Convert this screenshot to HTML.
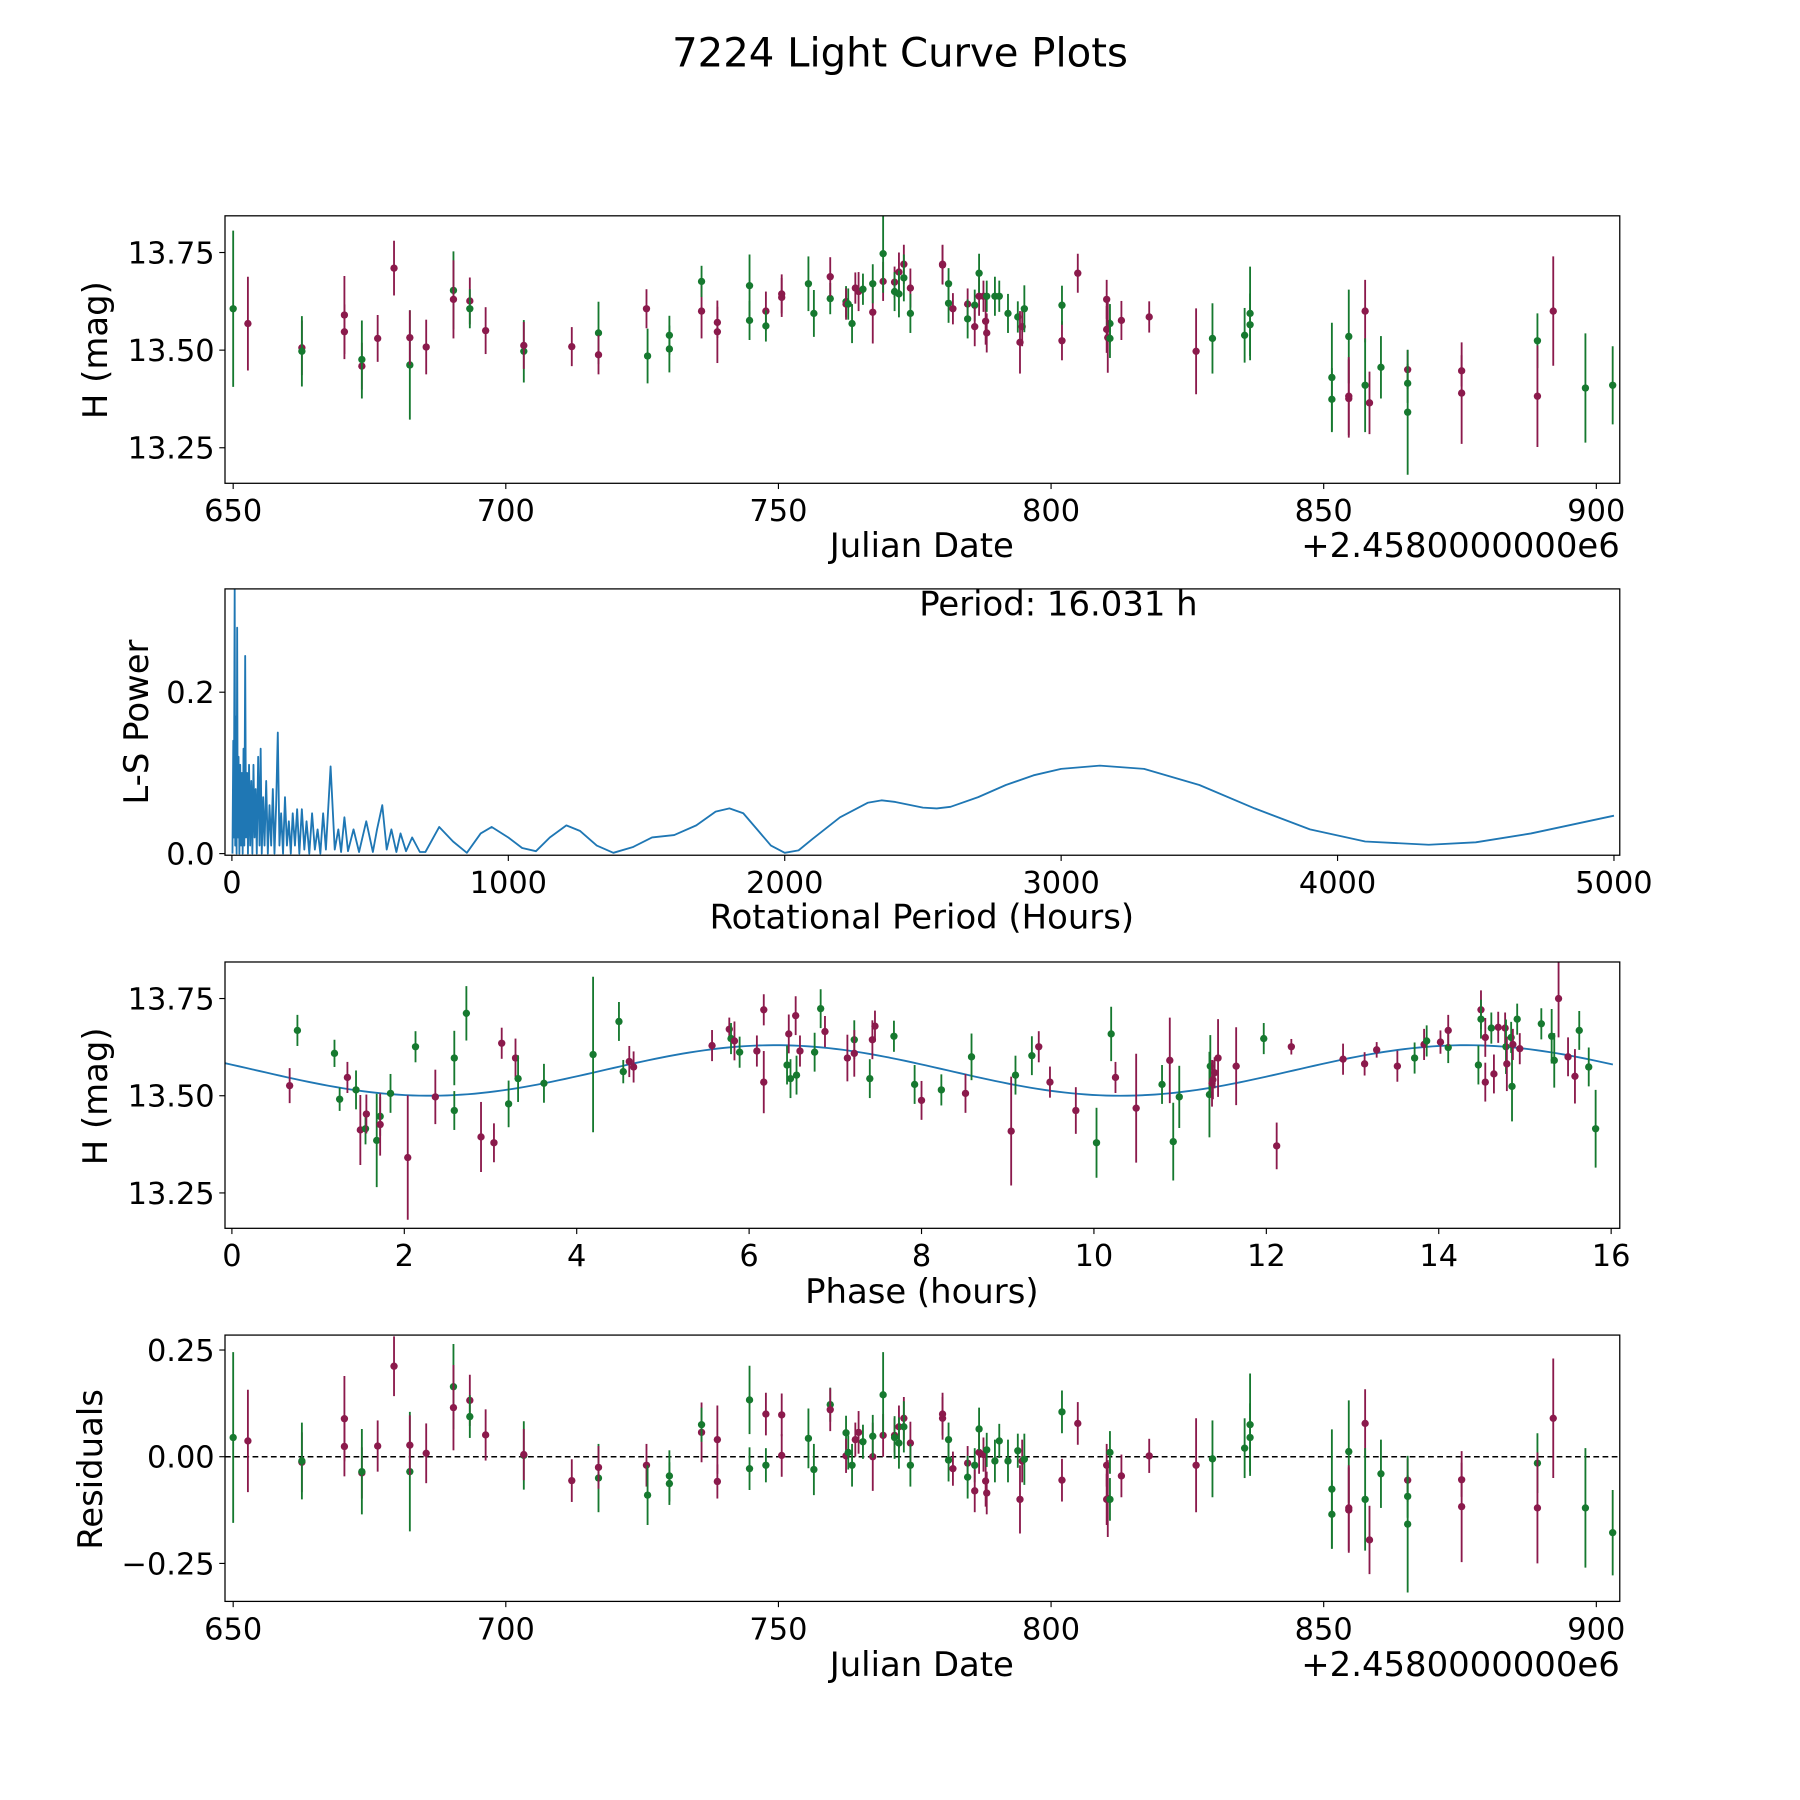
<!DOCTYPE html>
<html><head><meta charset="utf-8"><title>7224 Light Curve Plots</title>
<style>html,body{margin:0;padding:0;background:#fff}svg{display:block;font-family:"DejaVu Sans","Liberation Sans",sans-serif}</style>
</head><body>
<svg id="fig" width="1800" height="1800" viewBox="0 0 1568 1568" xmlns="http://www.w3.org/2000/svg">
<rect width="1568" height="1568" fill="#fff"/>
<text x="784" y="58" font-size="35" text-anchor="middle">7224 Light Curve Plots</text>
</svg>
<script>
// ---- Data: light curve [julian date offset, H mag, error, filter] ----
const lcJD = [650,652.7,662.6,662.6,670.4,670.4,673.6,673.6,676.5,679.5,682.4,682.4,685.4,690.4,690.4,693.4,693.4,696.3,703.3,703.3,712.1,717,717,725.8,726,730,730,735.9,735.9,738.8,738.8,744.7,744.7,747.7,747.7,750.6,750.6,755.5,756.5,759.5,759.5,762.4,762.4,762.8,763.5,764.1,764.7,765.5,767.3,767.3,769.2,769.2,771.3,771.3,772.1,772.1,773,773,774.2,774.2,780.1,780.1,781.2,781.2,782,784.7,784.7,786,786,786.8,786.8,787.6,788,788.2,788.2,789.7,790.5,792.1,793.9,794.3,794.7,795.1,802,802,804.9,810.2,810.2,810.8,810.4,810.8,812.9,818,826.6,829.6,835.5,836.5,836.5,851.5,851.5,854.6,854.6,854.6,857.6,857.6,858.4,860.5,865.4,865.4,865.4,875.3,875.3,889.2,889.2,892.1,898,903];
const lcH = [13.606,13.568,13.506,13.497,13.59,13.547,13.459,13.476,13.53,13.71,13.462,13.532,13.508,13.653,13.63,13.626,13.606,13.55,13.497,13.512,13.509,13.544,13.488,13.606,13.485,13.503,13.538,13.6,13.676,13.571,13.547,13.665,13.576,13.6,13.562,13.644,13.635,13.67,13.594,13.632,13.688,13.624,13.618,13.618,13.568,13.659,13.65,13.656,13.597,13.67,13.676,13.747,13.674,13.65,13.7,13.644,13.72,13.685,13.659,13.594,13.72,13.718,13.67,13.62,13.606,13.618,13.58,13.615,13.56,13.638,13.697,13.638,13.574,13.638,13.544,13.638,13.638,13.594,13.585,13.52,13.56,13.606,13.524,13.615,13.697,13.553,13.63,13.568,13.532,13.53,13.576,13.585,13.497,13.53,13.538,13.594,13.565,13.43,13.374,13.535,13.376,13.382,13.6,13.41,13.365,13.456,13.45,13.415,13.341,13.447,13.39,13.524,13.382,13.6,13.403,13.41];
const lcErr = [0.2,0.12,0.07,0.09,0.1,0.07,0.06,0.1,0.06,0.07,0.14,0.07,0.07,0.1,0.1,0.06,0.05,0.06,0.08,0.06,0.05,0.08,0.05,0.05,0.07,0.06,0.05,0.07,0.04,0.04,0.08,0.08,0.05,0.05,0.04,0.05,0.05,0.07,0.06,0.04,0.05,0.04,0.04,0.04,0.05,0.04,0.05,0.04,0.08,0.05,0.05,0.1,0.04,0.05,0.05,0.06,0.05,0.06,0.05,0.05,0.05,0.05,0.04,0.05,0.04,0.04,0.05,0.04,0.05,0.05,0.05,0.04,0.06,0.04,0.05,0.05,0.04,0.05,0.04,0.08,0.05,0.06,0.05,0.05,0.05,0.06,0.05,0.05,0.09,0.05,0.05,0.04,0.11,0.09,0.07,0.12,0.08,0.14,0.08,0.12,0.1,0.1,0.08,0.12,0.08,0.08,0.05,0.05,0.16,0.04,0.13,0.07,0.13,0.14,0.14,0.1];
const lcFilt = "gmmgmmmgmmgmmgmmgmgmmgmmgggmgmmggmgmmgggmgmggmmgmgmgmgmgmgmgmmggmmggmmgmmgmggggmmgmgmmmgmgmmmgggggggmmmgmgmggmmgmmggmmmm".split("");
const lcResid = [0.045,0.037,-0.013,-0.01,0.089,0.024,-0.038,-0.035,0.025,0.212,-0.035,0.027,0.008,0.164,0.115,0.132,0.094,0.051,0.003,0.005,-0.056,-0.05,-0.025,-0.02,-0.09,-0.045,-0.063,0.057,0.075,-0.058,0.04,0.133,-0.028,0.1,-0.02,0.098,0.003,0.043,-0.03,0.122,0.11,0.056,0.002,0.01,-0.02,0.04,0.057,0.035,0,0.048,0.05,0.145,0.05,0.045,0.07,0.032,0.09,0.07,0.032,-0.02,0.09,0.1,0.04,-0.008,-0.028,-0.015,-0.048,-0.02,-0.08,0.01,0.065,0.005,-0.057,0.016,-0.085,-0.01,0.037,-0.01,0.014,-0.1,-0.01,-0.006,-0.055,0.105,0.078,-0.1,-0.02,0.01,-0.098,-0.1,-0.045,0.002,-0.02,-0.005,0.02,0.075,0.045,-0.076,-0.135,0.012,-0.125,-0.12,0.078,-0.1,-0.195,-0.04,-0.055,-0.093,-0.158,-0.054,-0.117,-0.015,-0.12,0.09,-0.12,-0.178];

// ---- Periodogram ----
const lsPeriod = [2,5,7,10,12,15,17,19,21,24,27,30,33,36,39,42,45,48,51,55,58,62,66,70,74,78,82,86,90,95,100,104,108,113,118,124,130,136,142,148,154,160,166,172,178,185,192,199,206,213,220,228,236,244,253,262,270,280,290,300,310,320,330,340,357,372,385,395,407,420,440,460,486,510,525,544,560,577,595,610,630,652,680,700,750,800,850,900,940,1000,1050,1100,1150,1210,1260,1320,1380,1450,1520,1600,1680,1750,1800,1850,1900,1950,2000,2050,2100,2200,2300,2350,2400,2500,2550,2600,2700,2800,2900,3000,3140,3300,3500,3700,3900,4100,4330,4500,4700,4850,5000];
const lsPower = [0,0.14,0.02,0.33,0.01,0.17,0,0.28,0.02,0.12,0,0.11,0.01,0.1,0,0.13,0.01,0.245,0.02,0.1,0,0.11,0.01,0.09,0,0.11,0.02,0.08,0,0.12,0.01,0.13,0,0.07,0.01,0.09,0,0.06,0.01,0.08,0,0.06,0.15,0.01,0.05,0,0.07,0.01,0.04,0,0.05,0.01,0.055,0,0.055,0.005,0.04,0,0.05,0.005,0.03,0,0.05,0.005,0.108,0.005,0.03,0.002,0.045,0.003,0.03,0.002,0.04,0.002,0.03,0.06,0.005,0.03,0.002,0.025,0.003,0.02,0.002,0.002,0.033,0.015,0.001,0.025,0.033,0.02,0.007,0.003,0.02,0.035,0.028,0.01,0.001,0.008,0.02,0.023,0.035,0.052,0.056,0.05,0.03,0.01,0.001,0.004,0.018,0.045,0.063,0.066,0.064,0.057,0.056,0.058,0.07,0.085,0.097,0.105,0.109,0.105,0.085,0.056,0.03,0.015,0.011,0.014,0.025,0.036,0.047];

// ---- Phased light curve ----
const phHours = [0.67,0.76,1.19,1.25,1.34,1.44,1.49,1.55,1.56,1.68,1.72,1.72,1.84,2.04,2.13,2.36,2.58,2.58,2.72,2.89,3.04,3.13,3.21,3.29,3.32,3.62,4.19,4.49,4.54,4.61,4.66,5.57,5.77,5.79,5.83,5.89,6.17,6.17,6.09,6.44,6.46,6.48,6.54,6.55,6.59,6.76,6.83,6.88,7.14,7.22,7.22,7.4,7.43,7.46,7.68,7.92,8.0,8.23,8.51,8.58,9.04,9.09,9.28,9.36,9.49,9.79,10.03,10.2,10.25,10.49,10.79,10.88,10.92,10.99,11.34,11.35,11.37,11.38,11.4,11.44,11.65,11.97,12.12,12.29,12.89,13.14,13.28,13.52,13.72,13.83,13.86,14.02,14.11,14.11,14.46,14.49,14.49,14.54,14.54,14.61,14.64,14.69,14.77,14.78,14.79,14.84,14.85,14.86,14.91,14.94,15.19,15.31,15.34,15.39,15.5,15.58,15.63,15.74,15.82];
const phH = [13.526,13.668,13.609,13.491,13.547,13.515,13.412,13.415,13.453,13.385,13.447,13.426,13.506,13.341,13.626,13.497,13.597,13.462,13.712,13.394,13.379,13.635,13.479,13.597,13.544,13.532,13.606,13.691,13.562,13.588,13.574,13.629,13.671,13.647,13.641,13.612,13.721,13.535,13.615,13.579,13.659,13.544,13.706,13.553,13.615,13.612,13.724,13.665,13.597,13.644,13.609,13.544,13.644,13.679,13.653,13.529,13.488,13.515,13.506,13.6,13.409,13.553,13.603,13.626,13.535,13.462,13.379,13.659,13.547,13.468,13.529,13.591,13.382,13.497,13.503,13.576,13.532,13.541,13.559,13.597,13.576,13.647,13.371,13.626,13.594,13.582,13.618,13.576,13.597,13.632,13.641,13.638,13.624,13.668,13.579,13.721,13.697,13.535,13.65,13.674,13.556,13.676,13.674,13.626,13.582,13.65,13.524,13.632,13.697,13.621,13.685,13.653,13.591,13.75,13.6,13.55,13.668,13.574,13.415];
const phFilt = "mgggmgmgmggmgmgmgggmmmgmgggggmmmmgmgmmmgmgmgmggmmgmgmmggmgmgmggmmmggmmgmggggmmmmmgmmmmmmgmgmgmgmgmmgmmmgmggmgmgggmmmggggggm".split("");
const phErr = [0.045,0.04,0.035,0.03,0.04,0.05,0.09,0.04,0.05,0.12,0.05,0.08,0.05,0.16,0.04,0.07,0.07,0.05,0.07,0.09,0.05,0.04,0.06,0.05,0.06,0.05,0.2,0.05,0.03,0.04,0.04,0.04,0.03,0.04,0.05,0.04,0.04,0.08,0.04,0.05,0.05,0.05,0.05,0.05,0.04,0.05,0.05,0.04,0.06,0.05,0.06,0.05,0.05,0.04,0.04,0.05,0.05,0.04,0.05,0.06,0.14,0.05,0.05,0.04,0.04,0.06,0.09,0.07,0.04,0.14,0.05,0.11,0.1,0.08,0.11,0.08,0.06,0.05,0.04,0.1,0.1,0.04,0.06,0.02,0.04,0.03,0.02,0.04,0.04,0.04,0.04,0.03,0.04,0.04,0.05,0.05,0.05,0.05,0.05,0.04,0.05,0.04,0.04,0.07,0.07,0.04,0.09,0.04,0.04,0.04,0.04,0.07,0.07,0.1,0.05,0.07,0.05,0.05,0.1];

const modelMean = 13.565, modelAmp = 0.065, modelZero = 4.3, modelHalfPeriod = 8.0155;
const colG = "#16792f", colM = "#8b1a4c", colB = "#1f77b4";
const NS = "http://www.w3.org/2000/svg";
const svg = document.getElementById('fig');
function mk(tag, attrs, parent){const e=document.createElementNS(NS,tag);for(const k in attrs)e.setAttribute(k,attrs[k]);(parent||svg).appendChild(e);return e;}

function panel(id, top, bottom, xmin, xmax, ymin, ymax){
  const L=196,R=1411;
  const g = mk('g',{});
  
  
  const cp = mk('clipPath',{id:'clip-'+id},g);
  mk('rect',{x:L,y:top,width:R-L,height:bottom-top},cp);
  const plot = mk('g',{'clip-path':'url(#clip-'+id+')'},g);
  
  
  return {g, plot, L, R, top, bottom,
    x:v=>L+(v-xmin)/(xmax-xmin)*(R-L),
    y:v=>bottom-(v-ymin)/(ymax-ymin)*(bottom-top)};
}
function frame(p){
  const r = mk('rect',{x:p.L,y:p.top,width:p.R-p.L,height:p.bottom-p.top,fill:'none',stroke:'#000','stroke-width':1.1},p.g);
  
  
}
function xticks(p, vals, labels, name){
  vals.forEach((v,i)=>{const X=p.x(v);
    mk('line',{x1:X,x2:X,y1:p.bottom,y2:p.bottom+5,stroke:'#000','stroke-width':1},p.g);
    const t=mk('text',{x:X,y:p.bottom+33,'font-size':26.5,'text-anchor':'middle'},p.g);
    t.textContent=labels[i];
    
    
  });
}
function yticks(p, vals, labels, name){
  vals.forEach((v,i)=>{const Y=p.y(v);
    mk('line',{x1:p.L-5,x2:p.L,y1:Y,y2:Y,stroke:'#000','stroke-width':1},p.g);
    const t=mk('text',{x:p.L-9,y:Y+9.5,'font-size':26.5,'text-anchor':'end'},p.g);
    t.textContent=labels[i];
    
    
  });
}
function label(p, txt, x, y, rot, name, anchor){
  const t=mk('text',{x:x,y:y,'font-size':29.5,'text-anchor':anchor||'middle'},p.g);
  if(rot) t.setAttribute('transform','rotate(-90 '+x+' '+y+')');
  t.textContent=txt;
  
  
}
function point(p, xv, yv, ev, c){
  const col = c==='g'?colG:colM;
  const X=p.x(xv);
  const l=mk('line',{x1:X,x2:X,y1:p.y(yv-ev),y2:p.y(yv+ev),stroke:col,'stroke-width':1.6},p.plot);
  
  
  const d=mk('circle',{cx:X,cy:p.y(yv),r:3.2,fill:col},p.plot);
  
  
}

// Panel 1: light curve
const p1 = panel('light-curve',188,421,648.5,904.3,13.159,13.844);
lcJD.forEach((d,i)=>point(p1,d,lcH[i],lcErr[i],lcFilt[i]));
frame(p1);
xticks(p1,[650,700,750,800,850,900],['650','700','750','800','850','900'],'x1');
yticks(p1,[13.25,13.5,13.75],['13.25','13.50','13.75'],'y1');
label(p1,'Julian Date',803,485,false,'x-axis-title-1');
label(p1,'+2.4580000000e6',1411,485,false,'x-offset-text-1','end');
label(p1,'H (mag)',93,305,true,'y-axis-title-1');

// Panel 2: periodogram
const p2 = panel('periodogram',513,745,-25,5021,-0.002,0.328);
const pts = lsPeriod.map((v,i)=>p2.x(v).toFixed(2)+','+p2.y(lsPower[i]).toFixed(2)).join(' ');
const pl = mk('polyline',{points:pts,fill:'none',stroke:colB,'stroke-width':1.6,'stroke-linejoin':'round'},p2.plot);


frame(p2);
xticks(p2,[0,1000,2000,3000,4000,5000],['0','1000','2000','3000','4000','5000'],'x2');
yticks(p2,[0,0.2],['0.0','0.2'],'y2');
label(p2,'Rotational Period (Hours)',803,809,false,'x-axis-title-2');
label(p2,'L-S Power',129,629,true,'y-axis-title-2');
label(p2,'Period: 16.031 h',922,536,false,'period-annotation');

// Panel 3: phased curve
const p3 = panel('phased-curve',838,1070,-0.08,16.1,13.159,13.844);
const mpts=[];for(let i=0;i<=200;i++){const ph=i/200*16.1-0.08;mpts.push(p3.x(ph).toFixed(2)+','+p3.y(modelMean+modelAmp*Math.sin(2*Math.PI*(ph-modelZero)/modelHalfPeriod)).toFixed(2));}
const ml=mk('polyline',{points:mpts.join(' '),fill:'none',stroke:colB,'stroke-width':1.6},p3.plot);


phHours.forEach((h,i)=>point(p3,h,phH[i],phErr[i],phFilt[i]));
frame(p3);
xticks(p3,[0,2,4,6,8,10,12,14,16],['0','2','4','6','8','10','12','14','16'],'x3');
yticks(p3,[13.25,13.5,13.75],['13.25','13.50','13.75'],'y3');
label(p3,'Phase (hours)',803,1135,false,'x-axis-title-3');
label(p3,'H (mag)',93,955,true,'y-axis-title-3');

// Panel 4: residuals
const p4 = panel('residuals',1163,1395,648.5,904.3,-0.339,0.285);
const zl=mk('line',{x1:p4.L,x2:p4.R,y1:p4.y(0),y2:p4.y(0),stroke:'#000','stroke-width':1.3,'stroke-dasharray':'5,3'},p4.plot);


lcJD.forEach((d,i)=>point(p4,d,lcResid[i],lcErr[i],lcFilt[i]));
frame(p4);
xticks(p4,[650,700,750,800,850,900],['650','700','750','800','850','900'],'x4');
yticks(p4,[-0.25,0,0.25],['\u22120.25','0.00','0.25'],'y4');
label(p4,'Julian Date',803,1460,false,'x-axis-title-4');
label(p4,'+2.4580000000e6',1411,1460,false,'x-offset-text-4','end');
label(p4,'Residuals',89,1280,true,'y-axis-title-4');
</script>
</body></html>
